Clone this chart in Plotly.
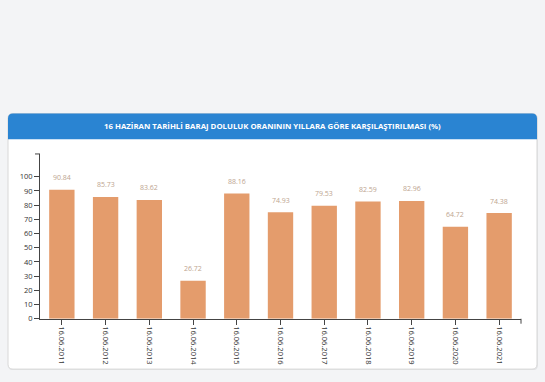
import plotly.graph_objects as go

categories = ["16.06.2011", "16.06.2012", "16.06.2013", "16.06.2014", "16.06.2015", "16.06.2016",
              "16.06.2017", "16.06.2018", "16.06.2019", "16.06.2020", "16.06.2021"]
values = [90.84, 85.73, 83.62, 26.72, 88.16, 74.93, 79.53, 82.59, 82.96, 64.72, 74.38]
title_text = "16 HAZİRAN TARİHLİ BARAJ DOLULUK ORANININ YILLARA GÖRE KARŞILAŞTIRILMASI (%)"
y_ticks = list(range(0, 101, 10))

W, H = 545, 382
def px(x): return x / W
def py(y): return 1 - y / H

def rounded_path(x0, y0, x1, y1, r_top, r_bot):
    # pixel coords (y down) -> paper path
    pts = []
    P = lambda x, y: f"{px(x):.5f},{py(y):.5f}"
    s = f"M {P(x0 + r_top, y0)} L {P(x1 - r_top, y0)} Q {P(x1, y0)} {P(x1, y0 + r_top)} "
    s += f"L {P(x1, y1 - r_bot)} Q {P(x1, y1)} {P(x1 - r_bot, y1)} "
    s += f"L {P(x0 + r_bot, y1)} Q {P(x0, y1)} {P(x0, y1 - r_bot)} "
    s += f"L {P(x0, y0 + r_top)} Q {P(x0, y0)} {P(x0 + r_top, y0)} Z"
    return s

fig = go.Figure()
fig.add_trace(go.Bar(
    x=categories, y=values,
    marker=dict(color="#e49c6c", line=dict(width=0)),
    hoverinfo="x+y",
))

for c, v in zip(categories, values):
    fig.add_annotation(x=c, y=v, text=f"{v:.2f}", showarrow=False, yshift=12,
                       font=dict(family="Open Sans", size=7, color="#bda58f"))

shapes = []
# card shadow
shapes.append(dict(type="path", xref="paper", yref="paper", layer="below",
                   path=rounded_path(8, 116, 538, 375, 5, 5),
                   fillcolor="#e4e5e7", line=dict(width=0)))
# card
shapes.append(dict(type="path", xref="paper", yref="paper", layer="below",
                   path=rounded_path(8, 115, 537, 374, 5, 5),
                   fillcolor="white", line=dict(color="#d8d8d8", width=1)))
# header
shapes.append(dict(type="path", xref="paper", yref="paper", layer="below",
                   path=rounded_path(8, 115, 537, 141, 5, 0),
                   fillcolor="#2a84d2", line=dict(width=0)))
# outer ticks (d3 style)
shapes.append(dict(type="line", xref="paper", yref="paper",
                   x0=px(35), x1=px(40), y0=py(156), y1=py(156),
                   line=dict(color="#444", width=1)))
shapes.append(dict(type="line", xref="paper", yref="paper",
                   x0=px(521), x1=px(521), y0=py(323), y1=py(328),
                   line=dict(color="#444", width=1)))

fig.add_annotation(xref="paper", yref="paper", x=px(272.5), y=py(128), text="<b>" + title_text + "</b>",
                   showarrow=False, font=dict(family="Open Sans", size=7.8, color="white"))

fig.update_layout(
    width=W, height=H,
    margin=dict(l=0, r=0, t=0, b=0),
    paper_bgcolor="#f3f4f6",
    plot_bgcolor="rgba(0,0,0,0)",
    showlegend=False,
    bargap=0.42,
    shapes=shapes,
    xaxis=dict(domain=[px(40), px(521)], type="category", range=[-0.5, 10.5],
               showline=True, linecolor="#444", linewidth=1, ticks="outside", ticklen=5,
               tickcolor="#444", tickangle=90, showgrid=False, zeroline=False,
               tickfont=dict(family="Open Sans", size=7.5, color="#333"), anchor="y"),
    yaxis=dict(domain=[py(323), py(156)], range=[0, 116], tickvals=y_ticks,
               showline=True, linecolor="#444", linewidth=1, ticks="outside", ticklen=5,
               tickcolor="#444", showgrid=False, zeroline=False,
               tickfont=dict(family="Open Sans", size=7.5, color="#333"), anchor="x"),
)

fig.write_html("out.html", config={"displayModeBar": False},
               post_script="document.body.style.margin='0';document.body.style.background='#f3f4f6';document.body.style.overflow='hidden';")
